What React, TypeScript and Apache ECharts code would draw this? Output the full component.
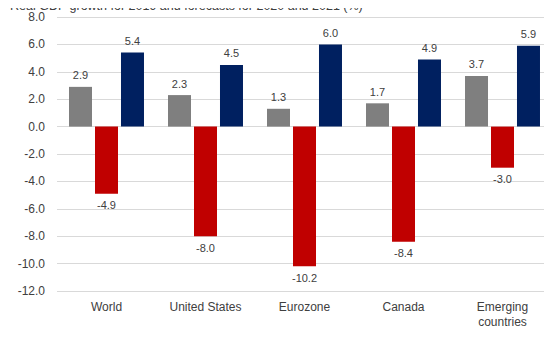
import React, { useEffect, useRef } from "react";
import * as echarts from "echarts";

const categories = ["World", "United States", "Eurozone", "Canada", "Emerging\ncountries"];
const s2019 = [2.9, 2.3, 1.3, 1.7, 3.7];
const s2020 = [-4.9, -8.0, -10.2, -8.4, -3.0];
const s2021 = [5.4, 4.5, 6.0, 4.9, 5.9];
const titleText = "Real GDP growth for 2019 and forecasts for 2020 and 2021 (%)";

const FONT = "Liberation Sans, Arial, sans-serif";

export default function App() {
  const ref = useRef<HTMLDivElement>(null);
  useEffect(() => {
    if (!ref.current) return;
    const chart = echarts.init(ref.current, null, { renderer: "svg" });
    const label = {
      show: true,
      formatter: (p: any) => Number(p.value).toFixed(1),
      fontSize: 11,
      color: "#404040",
      fontFamily: FONT,
      distance: 6,
    };
    const mk = (name: string, data: number[], color: string) => ({
      name,
      type: "bar",
      data: data.map((v) => ({
        value: v,
        label: { position: v >= 0 ? "top" : "bottom" },
      })),
      barWidth: 23,
      barGap: "13%",
      itemStyle: { color },
      label,
    });
    chart.setOption({
      animation: false,
      backgroundColor: "#ffffff",
      textStyle: { fontFamily: FONT },
      title: {
        text: titleText,
        left: 5,
        top: -6,
        padding: 5,
        textStyle: { fontSize: 12.5, fontWeight: "normal", color: "#404040", fontFamily: FONT },
      },
      legend: {
        data: ["2019", "2020"],
        left: 256,
        top: 334,
        itemWidth: 9,
        itemHeight: 9,
        itemGap: 17,
        icon: "rect",
        textStyle: { fontSize: 12, color: "#404040", fontFamily: FONT, padding: [0, 0, 0, -3] },
      },
      grid: { left: 57, top: 17, width: 505, bottom: 54 },
      xAxis: {
        type: "category",
        data: categories,
        axisLine: { show: false },
        axisTick: { show: false },
        axisLabel: {
          fontSize: 12,
          color: "#404040",
          fontFamily: FONT,
          interval: 0,
          margin: 8,
          lineHeight: 15,
        },
      },
      yAxis: {
        type: "value",
        min: -12,
        max: 8,
        interval: 2,
        axisLine: { show: false },
        axisTick: { show: false },
        axisLabel: {
          formatter: (v: number) => v.toFixed(1),
          fontSize: 12,
          color: "#404040",
          fontFamily: FONT,
          margin: 12,
        },
        splitLine: { lineStyle: { color: "#d9d9d9", width: 1 } },
      },
      series: [
        mk("2019", s2019, "#7f7f7f"),
        mk("2020", s2020, "#c00000"),
        mk("2021", s2021, "#002060"),
      ],
    });
    return () => chart.dispose();
  }, []);
  return <div ref={ref} style={{ width: 552, height: 345, margin: -8 }} />;
}
